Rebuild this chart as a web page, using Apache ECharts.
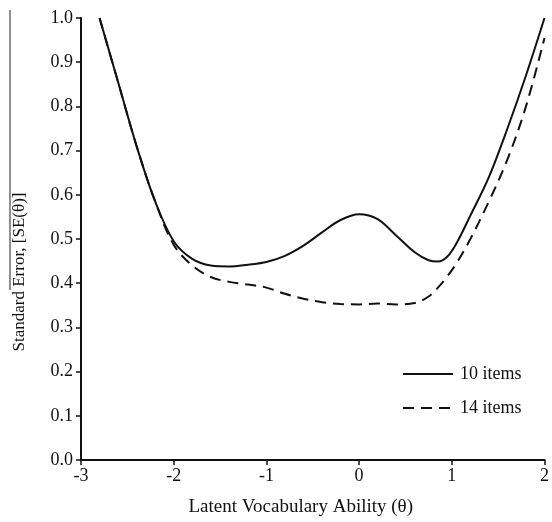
<!DOCTYPE html>
<html>
<head>
<meta charset="utf-8">
<script src="https://cdn.jsdelivr.net/npm/echarts@6/dist/echarts.min.js"></script>
<style>
  html, body { margin: 0; padding: 0; background: #fff; }
  #chart { width: 552px; height: 522px; }
</style>
</head>
<body>
<div id="chart"></div>
<script>
// theta values and standard errors
const theta = [-2.8, -2.6, -2.4, -2.2, -2.0, -1.8, -1.6, -1.4, -1.2, -1.0, -0.8, -0.6, -0.4, -0.2, 0.0, 0.2, 0.4, 0.6, 0.75, 0.85, 0.95, 1.05, 1.2, 1.4, 1.6, 1.8, 2.0]
const se10 = [1.0, 0.855, 0.71, 0.585, 0.495, 0.455, 0.44, 0.438, 0.442, 0.448, 0.462, 0.485, 0.515, 0.543, 0.556, 0.545, 0.508, 0.47, 0.452, 0.449, 0.46, 0.49, 0.553, 0.64, 0.75, 0.87, 1.0]
const se14 = [1.0, 0.855, 0.71, 0.585, 0.487, 0.44, 0.414, 0.403, 0.397, 0.39, 0.376, 0.365, 0.357, 0.353, 0.352, 0.354, 0.352, 0.355, 0.37, 0.39, 0.415, 0.445, 0.5, 0.585, 0.68, 0.8, 0.955]

const seriesNames = ['10 items', '14 items']

const font = 'Liberation Serif'
const chart = echarts.init(document.getElementById('chart'))

chart.setOption({
  backgroundColor: '#fff',
  animation: false,
  textStyle: { fontFamily: font, color: '#111' },
  grid: { left: 81, right: 4, top: 18, bottom: 59 },
  legend: {
    data: seriesNames,
    orient: 'vertical',
    left: 397,
    top: 360,
    itemWidth: 50,
    itemHeight: 14,
    itemGap: 16,
    itemStyle: { opacity: 0 },
    textStyle: { fontFamily: font, fontSize: 18, color: '#111', padding: [0, 0, 0, 2] }
  },
  xAxis: {
    type: 'value',
    min: -3,
    max: 2,
    interval: 1,
    name: 'Latent Vocabulary Ability (θ)',
    nameLocation: 'middle',
    nameGap: 38,
    nameTextStyle: { fontFamily: font, fontSize: 19, color: '#111', padding: [0, 24, 0, 0] },
    axisLine: { onZero: false, lineStyle: { color: '#111', width: 2 } },
    axisTick: { lineStyle: { color: '#111', width: 1.5 }, length: 5 },
    axisLabel: { fontFamily: font, fontSize: 18, color: '#111', margin: 7 },
    splitLine: { show: false }
  },
  yAxis: {
    type: 'value',
    min: 0,
    max: 1,
    interval: 0.1,
    axisLine: { show: true, onZero: false, lineStyle: { color: '#111', width: 2 } },
    axisTick: { show: true, lineStyle: { color: '#111', width: 1.5 }, length: 5 },
    axisLabel: {
      fontFamily: font, fontSize: 18, color: '#111', margin: 8,
      formatter: function (v) { return v.toFixed(1) }
    },
    splitLine: { show: false }
  },
  series: [
    {
      name: seriesNames[0],
      type: 'line',
      smooth: 0.35,
      symbol: 'none',
      data: theta.map((t, i) => [t, se10[i]]),
      lineStyle: { color: '#111', width: 2 },
      itemStyle: { color: '#111' }
    },
    {
      name: seriesNames[1],
      type: 'line',
      smooth: 0.35,
      symbol: 'none',
      data: theta.map((t, i) => [t, se14[i]]),
      lineStyle: { color: '#111', width: 2, type: [11, 7] },
      itemStyle: { color: '#111' }
    }
  ],
  graphic: [
    {
      type: 'text',
      x: 11,
      y: 272,
      rotation: Math.PI / 2,
      style: {
        text: 'Standard Error, [SE(θ)]',
        font: '17px "Liberation Serif"',
        fill: '#111',
        align: 'center',
        verticalAlign: 'top'
      }
    },
    {
      type: 'line',
      shape: { x1: 10, y1: 10, x2: 10, y2: 290 },
      style: { stroke: '#222', lineWidth: 1 }
    }
  ]
})
</script>
</body>
</html>
